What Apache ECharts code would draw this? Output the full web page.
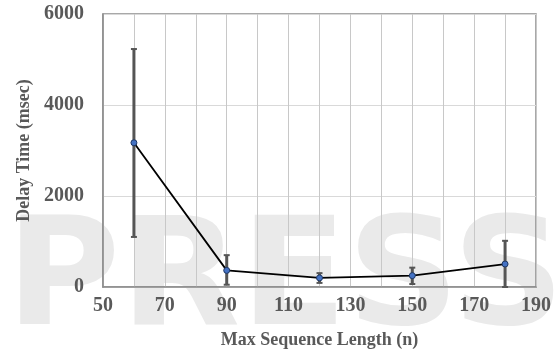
<!DOCTYPE html>
<html>
<head>
<meta charset="utf-8">
<script src="https://cdn.jsdelivr.net/npm/echarts@6/dist/echarts.min.js"></script>
<style>
  html, body { margin: 0; padding: 0; background: #fff; }
  #chart { width: 558px; height: 354px; }
</style>
</head>
<body>
<div id="chart"></div>
<script>
// data
const seqLength = [60, 90, 120, 150, 180]
const delayMean = [3170, 365, 200, 250, 505]
const delayLow = [1100, 50, 90, 65, 0]
const delayHigh = [5230, 700, 305, 425, 1015]

const labelColor = '#595959'
const serif = 'Liberation Serif'

const chart = echarts.init(document.getElementById('chart'))

const errData = seqLength.map((x, i) => [x, delayLow[i], delayHigh[i]])

const option = {
  animation: false,
  backgroundColor: '#fff',
  graphic: [
    {
      type: 'text',
      z: -10,
      left: 6,
      top: 210,
      scaleX: 1.04,
      style: {
        text: 'PRESS',
        fontFamily: 'DejaVu Sans',
        fontWeight: 'bold',
        fontSize: 150,
        fill: '#eaeaea'
      }
    }
  ],
  grid: {
    left: 103,
    right: 22,
    top: 14,
    bottom: 66,
    show: true,
    borderColor: '#8c8c8c',
    borderWidth: 1.5,
    backgroundColor: 'transparent'
  },
  xAxis: {
    type: 'value',
    min: 50,
    max: 190,
    interval: 20,
    name: 'Max Sequence Length (n)',
    nameLocation: 'middle',
    nameGap: 44,
    nameTextStyle: { fontFamily: serif, fontWeight: 'bold', fontSize: 18, color: labelColor },
    axisLine: { show: true, lineStyle: { color: '#8c8c8c', width: 1.5 } },
    axisTick: { show: false },
    axisLabel: { fontFamily: serif, fontWeight: 'bold', fontSize: 20, color: labelColor, margin: 9 },
    splitLine: { show: true, lineStyle: { color: '#c8c8c8', width: 1 } },
    minorTick: { show: false, splitNumber: 2 },
    minorSplitLine: { show: true, lineStyle: { color: '#c8c8c8', width: 1 } }
  },
  yAxis: {
    type: 'value',
    min: 0,
    max: 6000,
    interval: 2000,
    name: 'Delay Time (msec)',
    nameLocation: 'middle',
    nameGap: 66,
    nameTextStyle: { fontFamily: serif, fontWeight: 'bold', fontSize: 18, color: labelColor },
    axisLine: { show: true, lineStyle: { color: '#8c8c8c', width: 1.5 } },
    axisTick: { show: false },
    axisLabel: {
      fontFamily: serif, fontWeight: 'bold', fontSize: 20, color: labelColor, margin: 19,
      formatter: v => String(v)
    },
    splitLine: { show: true, lineStyle: { color: '#d9d9d9', width: 1 } }
  },
  series: [
    {
      type: 'custom',
      z: 2,
      data: errData,
      renderItem: function (params, api) {
        const x = api.value(0)
        const lo = api.coord([x, api.value(1)])
        const hi = api.coord([x, api.value(2)])
        const cap = 3
        const capStyle = { stroke: '#555555', lineWidth: 2 }
        return {
          type: 'group',
          children: [
            { type: 'line', shape: { x1: lo[0], y1: lo[1], x2: hi[0], y2: hi[1] }, style: { stroke: '#555555', lineWidth: 3 } },
            { type: 'line', shape: { x1: hi[0] - cap, y1: hi[1], x2: hi[0] + cap, y2: hi[1] }, style: capStyle },
            { type: 'line', shape: { x1: lo[0] - cap, y1: lo[1], x2: lo[0] + cap, y2: lo[1] }, style: capStyle }
          ]
        }
      }
    },
    {
      type: 'line',
      z: 3,
      data: seqLength.map((x, i) => [x, delayMean[i]]),
      lineStyle: { color: '#000', width: 1.8 },
      symbol: 'circle',
      symbolSize: 6,
      itemStyle: { color: '#4472c4', borderColor: '#1f3864', borderWidth: 1 }
    }
  ]
}

chart.setOption(option)
</script>
</body>
</html>
